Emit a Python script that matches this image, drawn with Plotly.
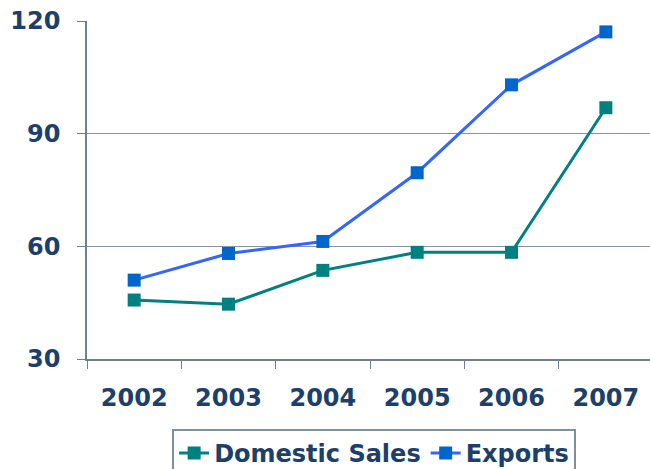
import plotly.graph_objects as go

years = ['2002', '2003', '2004', '2005', '2006', '2007']
domestic_sales = [45.7, 44.6, 53.6, 58.4, 58.4, 96.9]
exports = [51.0, 58.1, 61.3, 79.6, 103.0, 117.1]

navy = '#1c406b'
axis_grey = '#6f7f93'
label_font = dict(family='DejaVu Sans', size=24, color=navy, weight='bold')

fig = go.Figure()

fig.add_trace(
    go.Scatter(
        x=years,
        y=domestic_sales,
        name='Domestic Sales',
        mode='lines+markers',
        line=dict(color='#008080', width=3),
        marker=dict(symbol='square', size=13, color='#008080')
    )
)

fig.add_trace(
    go.Scatter(
        x=years,
        y=exports,
        name='Exports',
        mode='lines+markers',
        line=dict(color='#3366ff', width=3),
        marker=dict(symbol='square', size=13, color='#0066cc')
    )
)

fig.update_layout(
    width=650,
    height=469,
    margin=dict(l=87, r=0, t=21, b=110, autoexpand=False),
    paper_bgcolor='white',
    plot_bgcolor='white',
    font=dict(family='DejaVu Sans', size=24, color=navy),
    showlegend=True,
    legend=dict(
        orientation='h',
        x=0.51,
        xanchor='center',
        y=-0.207,
        yanchor='top',
        bordercolor='#7f8fa3',
        borderwidth=2,
        font=label_font,
        itemwidth=30,
        tracegroupgap=0
    ),
    xaxis=dict(
        type='category',
        range=[-0.5, 5.468],
        automargin=False,
        showgrid=False,
        showline=True,
        linecolor=axis_grey,
        linewidth=1.5,
        ticks='outside',
        ticklen=8,
        tickcolor=axis_grey,
        tickson='boundaries',
        tickfont=label_font,
        ticklabelstandoff=16
    ),
    yaxis=dict(
        range=[30, 120],
        tickvals=[30, 60, 90, 120],
        automargin=False,
        showgrid=True,
        gridcolor='#8593a5',
        gridwidth=1,
        showline=True,
        linecolor=axis_grey,
        linewidth=1.5,
        ticks='outside',
        ticklen=8,
        tickcolor=axis_grey,
        zeroline=False,
        tickfont=label_font,
        ticklabelstandoff=12
    )
)

# page has a default body margin; drop it so the figure fills the window
fig.write_html(
    'out.html',
    config={'displayModeBar': False},
    post_script="document.body.style.margin='0';document.body.style.overflow='hidden';"
)
